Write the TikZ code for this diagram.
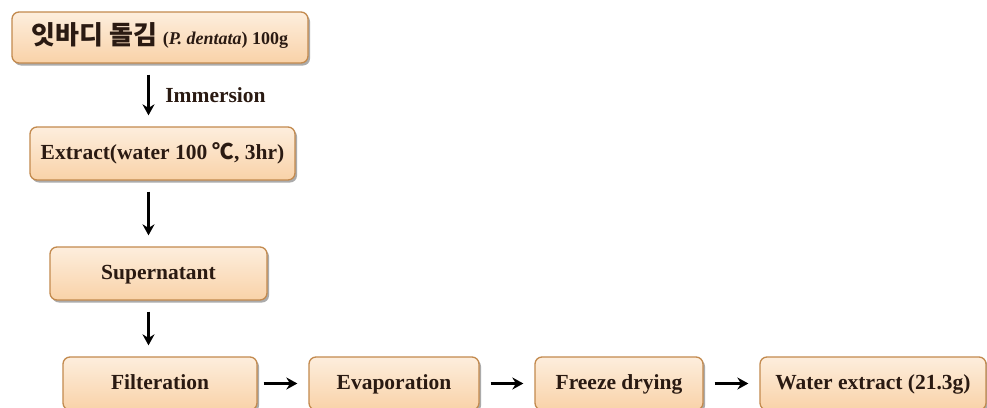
\documentclass[tikz,border=0pt]{standalone}
\usepackage{fontspec}
\setmainfont{Liberation Serif}
\newfontfamily\krfont{Noto Sans CJK KR}
\usetikzlibrary{positioning,arrows.meta,shadows}
\definecolor{boxfill}{HTML}{F9D2A8}
\definecolor{boxtop}{HTML}{FDEEDD}
\definecolor{boxedge}{HTML}{C38A4E}
\definecolor{inkbrown}{HTML}{2A1A12}

\begin{document}
\begin{tikzpicture}[x=1pt,y=1pt]
            \tikzstyle{procbox}=[draw=boxedge, line width=1.3pt, rounded corners=7pt,
                top color=boxtop, bottom color=boxfill, text=inkbrown,
                font=\fontsize{21.5}{24}\selectfont\bfseries,
                minimum height=53pt, inner sep=0pt, text height=15pt, text depth=4pt,
                drop shadow={shadow xshift=2pt, shadow yshift=-2.5pt, opacity=.5, fill=black!65}]
            \tikzstyle{flow}=[-{Stealth[length=11pt,width=12pt]}, line width=3pt, draw=black,
                shorten <=11pt, shorten >=11pt]

            \useasboundingbox (0,0) rectangle (987,-407);
            \fill[white] (0,0) rectangle (987,-407);

            % vertical chain
            \node[procbox, minimum width=296pt, minimum height=51pt, text height=18pt, text depth=5pt] (dulse) at (160,-37.5)
                {{\krfont\fontsize{26}{28}\selectfont 잇바디 돌김} {\fontsize{18}{20}\selectfont(\textit{P. dentata}) 100g}};
            \node[procbox, minimum width=265pt] (extract) at (162.5,-153.5)
                {Extract(water 100 {\krfont ℃}, 3hr)};
            \node[procbox, minimum width=217pt] (supernat) at (158.5,-273.5) {Supernatant};

            % bottom row
            \node[procbox, minimum width=194pt] (filter) at (160,-383.5) {Filteration};
            \node[procbox, minimum width=170pt] (evap) at (394,-383.5) {Evaporation};
            \node[procbox, minimum width=168pt] (freeze) at (619,-383.5) {Freeze drying};
            \node[procbox, minimum width=226pt] (waterext) at (873,-383.5) {Water extract (21.3g)};

            \coordinate (spine) at (148.5,0);

            \draw[flow] (dulse.south -| spine) -- (extract.north -| spine)
                node[midway, right=12pt, text=inkbrown, font=\fontsize{21.5}{24}\selectfont\bfseries] (immlabel) {Immersion};
            \draw[flow] (extract.south -| spine) -- (supernat.north -| spine);
            \draw[flow] (supernat.south -| spine) -- (filter.north -| spine);

            \draw[flow, shorten <=6pt] (filter) -- (evap);
            \draw[flow] (evap) -- (freeze);
            \draw[flow] (freeze) -- (waterext);
\end{tikzpicture}
\end{document}
